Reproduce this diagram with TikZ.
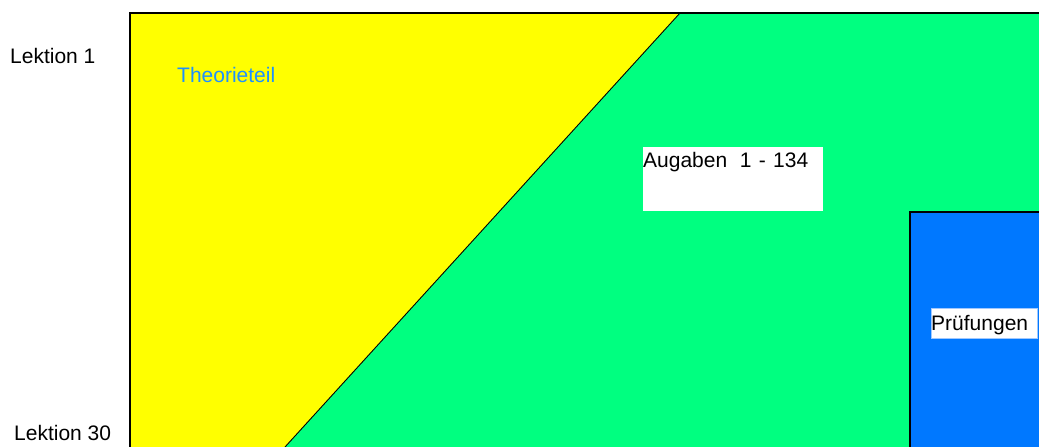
\documentclass[tikz,border=0pt]{standalone}
\usepackage{fontspec}
\setmainfont{Liberation Sans}
\definecolor{theoY}{RGB}{255,255,0}
\definecolor{aufgG}{RGB}{0,255,128}
\definecolor{pruefB}{RGB}{0,120,255}
\definecolor{theoT}{RGB}{30,144,255}
\definecolor{boxEdge}{RGB}{160,200,255}
\tikzset{
  lbl/.style={anchor=base west, inner sep=0pt, font=\fontsize{21}{24}\selectfont},
  region/.style={draw=black, line width=1.4pt},
  whitebox/.style={fill=white, draw=none},
}
\begin{document}
\begin{tikzpicture}[x=1pt,y=-1pt]
\useasboundingbox (0,0) rectangle (1039,447);
\fill[white] (0,0) rectangle (1039,447);
\begin{scope}
\clip (0,0) rectangle (1039,447);
% green background (whole frame)
\fill[aufgG] (130,13) rectangle (1050,460);
% yellow region
\fill[theoY] (130,13) -- (680,13) -- (285,447) -- (285,460) -- (130,460) -- cycle;
\draw[line width=0.9pt] (680,13) -- (285,447);
% outer frame
\draw[region] (130,460) -- (130,13) -- (1050,13);
% blue region
\fill[pruefB] (910,212) rectangle (1050,460);
\draw[region] (910,460) -- (910,212) -- (1050,212);
% white label boxes
\fill[whitebox] (643,147) rectangle (823,211);
\filldraw[fill=white, draw=boxEdge, line width=0.6pt] (931,308) rectangle (1037,338);
\end{scope}
\node[lbl] (l1) at (10,63) {Lektion 1};
\node[lbl] (l30) at (14,440) {Lektion 30};
\node[lbl, text=theoT] (theo) at (177,82) {Theorieteil};
\node[lbl] (aufg) at (643,167) {Augaben\hspace{0.6em}1\hspace{0.35em}-\hspace{0.35em}134};
\node[lbl] (pruef) at (931,330) {Prüfungen};
\end{tikzpicture}
\end{document}
